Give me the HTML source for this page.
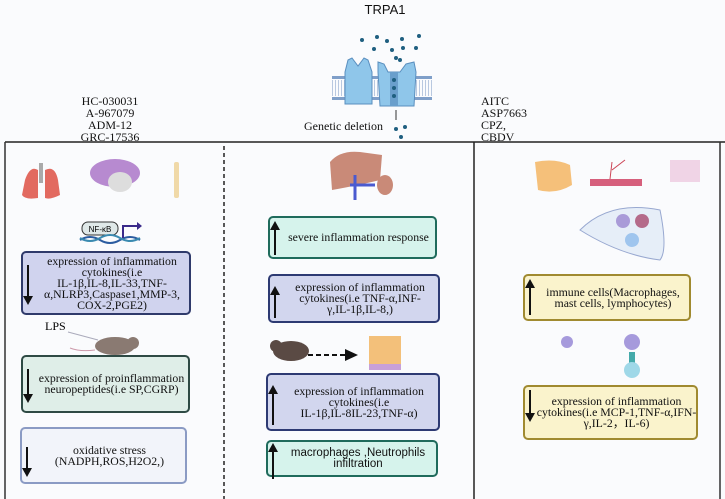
<!DOCTYPE html>
<html><head><meta charset="utf-8"><style>
body{margin:0;width:725px;height:499px;background:#fafbfd;position:relative;overflow:hidden;font-family:"Liberation Serif",serif;color:#111}
.t{position:absolute;font-size:12px;line-height:12px;text-align:center}
.b{position:absolute;box-sizing:border-box;border:2px solid;border-radius:5px;font-size:11.8px;line-height:11px;text-align:center;display:flex;align-items:center;justify-content:center;padding-left:14px;padding-right:2px;white-space:nowrap}
.ar{position:absolute;left:4px;width:2px;background:#111}
.ar::after{content:"";position:absolute;left:-4px;border-left:5px solid transparent;border-right:5px solid transparent}
.up .ar::after{top:-2px;border-bottom:9px solid #111}
.dn .ar::after{bottom:-2px;border-top:9px solid #111}
</style></head><body>
<div class="t" style="left:355px;top:4px;width:60px;font-size:13px;font-family:'Liberation Sans',sans-serif">TRPA1</div>
<div class="t" style="left:55px;top:95px;width:110px">HC-030031<br>A-967079<br>ADM-12<br>GRC-17536</div>
<div class="t" style="left:481px;top:95px;text-align:left">AITC<br>ASP7663<br>CPZ,<br>CBDV</div>
<div class="t" style="left:304px;top:120px;text-align:left">Genetic deletion</div>
<svg width="725" height="499" style="position:absolute;left:0;top:0">
<line x1="5" y1="142" x2="725" y2="142" stroke="#222" stroke-width="1.5"/>
<line x1="5" y1="142" x2="5" y2="499" stroke="#333" stroke-width="1.5"/>
<line x1="224" y1="146" x2="224" y2="499" stroke="#222" stroke-width="1.5" stroke-dasharray="4,3"/>
<line x1="474" y1="142" x2="474" y2="499" stroke="#222" stroke-width="1.5"/>
<line x1="720" y1="142" x2="720" y2="499" stroke="#333" stroke-width="1.5"/>
<g fill="#7f9fc9"><rect x="332" y="76" width="100" height="3"/><rect x="332" y="97" width="100" height="3"/></g>
<line x1="332" y1="88" x2="432" y2="88" stroke="#b8c8e0" stroke-width="16" stroke-dasharray="1,2"/>
<path d="M348 60 L352 58 L358 66 L364 58 L368 60 L372 72 L372 104 L345 104 L345 72Z" fill="#8fc6ea" stroke="#5a8fbf"/>
<path d="M378 62 L384 64 L388 72 L400 72 L406 64 L414 62 L416 72 L414 106 L380 106 L378 72Z" fill="#8fc6ea" stroke="#5a8fbf"/>
<rect x="390" y="72" width="8" height="34" fill="#6a9fcc"/>
<g fill="#1f5f80"><circle cx="394" cy="80" r="2"/><circle cx="394" cy="88" r="2"/><circle cx="394" cy="96" r="2"/>
<circle cx="362" cy="40" r="2"/><circle cx="377" cy="37" r="2"/><circle cx="387" cy="41" r="2"/><circle cx="402" cy="39" r="2"/><circle cx="419" cy="36" r="2"/>
<circle cx="374" cy="49" r="2"/><circle cx="392" cy="50" r="2"/><circle cx="403" cy="48" r="2"/><circle cx="416" cy="48" r="2"/><circle cx="396" cy="58" r="2"/><circle cx="400" cy="60" r="2"/>
<circle cx="396" cy="129" r="2"/><circle cx="405" cy="127" r="2"/><circle cx="401" cy="137" r="2"/></g>
<line x1="396" y1="120" x2="396" y2="110" stroke="#333"/>
<path d="M25 180 Q30 165 38 170 L38 198 Q25 200 22 195Z M45 170 Q55 165 58 180 L60 195 Q50 200 45 198Z" fill="#e26a60"/>
<rect x="39" y="163" width="4" height="20" fill="#aaa"/>
<ellipse cx="115" cy="173" rx="25" ry="14" fill="#b78ad0"/>
<ellipse cx="120" cy="182" rx="12" ry="10" fill="#ddd"/>
<rect x="174" y="162" width="5" height="36" rx="2" fill="#f0d9a8"/>
<rect x="82" y="222" width="36" height="13" rx="6" fill="#dfe8e8" stroke="#333"/>
<text x="100" y="232" font-size="8" text-anchor="middle" font-family="Liberation Sans">NF-κB</text>
<path d="M80 240 Q90 234 100 240 T120 240 T140 240" stroke="#2b5ca0" fill="none" stroke-width="2"/>
<path d="M80 238 Q90 244 100 238 T120 238 T140 238" stroke="#3a8ab0" fill="none" stroke-width="2"/>
<path d="M123 238 V226 H138" stroke="#3a2a8a" fill="none" stroke-width="2"/><path d="M137 222 L142 226 L137 230Z" fill="#3a2a8a"/>
<text x="45" y="330" font-size="12">LPS</text>
<line x1="68" y1="332" x2="98" y2="340" stroke="#aab"/>
<ellipse cx="115" cy="346" rx="20" ry="9" fill="#8a7a72"/><circle cx="133" cy="343" r="6" fill="#8a7a72"/>
<path d="M95 350 Q80 352 70 348" stroke="#c9a" fill="none"/>
<path d="M330 162 Q340 150 360 152 L382 155 L380 180 Q360 185 332 190Z" fill="#c98a78"/>
<ellipse cx="385" cy="185" rx="8" ry="10" fill="#c98a78"/><path d="M355 175 V200 M350 185 H375" stroke="#4a5ad0" stroke-width="3"/>
<ellipse cx="291" cy="351" rx="18" ry="10" fill="#5a4a44"/><circle cx="276" cy="346" r="6" fill="#5a4a44"/>
<line x1="308" y1="355" x2="345" y2="355" stroke="#111" stroke-width="2" stroke-dasharray="5,3"/>
<path d="M345 349 L358 355 L345 361Z" fill="#111"/>
<rect x="369" y="336" width="32" height="34" fill="#f3c07a"/><rect x="369" y="364" width="32" height="6" fill="#c7a0d8"/>
<path d="M535 162 Q555 158 570 165 L572 185 Q555 195 538 190Z" fill="#f5c07a"/>
<rect x="590" y="179" width="52" height="7" fill="#d65f7c"/><path d="M610 179 L612 162 M612 170 L625 160" stroke="#c45" fill="none"/>
<rect x="670" y="160" width="30" height="22" fill="#f0d4e6"/>
<path d="M580 230 Q610 200 660 210 Q668 250 660 260 Q620 255 580 230Z" fill="#e6eef8" stroke="#98a8d0"/>
<circle cx="623" cy="221" r="7" fill="#a99bd8"/><circle cx="642" cy="221" r="7" fill="#b46a8a"/><circle cx="632" cy="240" r="7" fill="#9fc5ee"/>
<circle cx="567" cy="342" r="6" fill="#a69adc"/><circle cx="632" cy="342" r="8" fill="#a69adc"/>
<rect x="629" y="352" width="6" height="12" fill="#4aa"/><circle cx="632" cy="370" r="8" fill="#9fd8e8"/>
</svg>

<div class="b dn" style="left:21px;top:251px;width:170px;height:64px;background:#d0d3ee;border-color:#2f3a6b"><div class="ar" style="top:12px;height:38px"></div>expression of inflammation<br>cytokines(i.e<br>IL-1β,IL-8,IL-33,TNF-<br>α,NLRP3,Caspase1,MMP-3,<br>COX-2,PGE2)</div>
<div class="b dn" style="left:21px;top:355px;width:169px;height:58px;background:#dfeee8;border-color:#2e4a44"><div class="ar" style="top:12px;height:32px"></div>expression of proinflammation<br>neuropeptides(i.e SP,CGRP)</div>
<div class="b dn" style="left:20px;top:427px;width:167px;height:57px;background:#f2f4fa;border-color:#8b9bc4"><div class="ar" style="top:18px;height:28px"></div>oxidative stress<br>(NADPH,ROS,H2O2,)</div>

<div class="b up" style="left:268px;top:216px;width:169px;height:43px;background:#d6f3ec;border-color:#1f6b5c"><div class="ar" style="top:5px;height:32px"></div>severe inflammation response</div>
<div class="b up" style="left:268px;top:274px;width:172px;height:49px;background:#d2d6ee;border-color:#2d3a73"><div class="ar" style="top:12px;height:30px"></div>expression of inflammation<br>cytokines(i.e TNF-α,INF-<br>γ,IL-1β,IL-8,)</div>
<div class="b up" style="left:266px;top:373px;width:174px;height:58px;background:#d2d6ee;border-color:#2d3a73"><div class="ar" style="top:12px;height:38px"></div>expression of inflammation<br>cytokines(i.e<br>IL-1β,IL-8IL-23,TNF-α)</div>
<div class="b up" style="left:266px;top:440px;width:172px;height:37px;background:#d6f3ec;border-color:#1f6b5c;font-family:'Liberation Sans',sans-serif;font-size:11.5px"><div class="ar" style="top:3px;height:34px"></div>macrophages ,Neutrophils<br>infiltration</div>

<div class="b up" style="left:523px;top:274px;width:168px;height:47px;background:#faf3cc;border-color:#a08a30"><div class="ar" style="top:5px;height:34px"></div>immune cells(Macrophages,<br>mast cells, lymphocytes)</div>
<div class="b dn" style="left:523px;top:385px;width:175px;height:55px;background:#faf3cc;border-color:#a08a30"><div class="ar" style="top:3px;height:30px"></div>expression of inflammation<br>cytokines(i.e MCP-1,TNF-α,IFN-<br>γ,IL-2，IL-6)</div>
</body></html>
